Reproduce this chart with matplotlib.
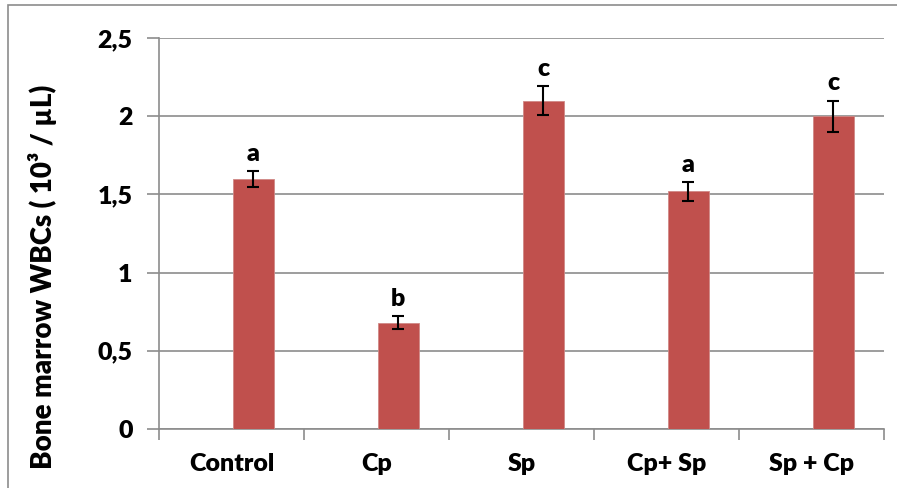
import matplotlib
matplotlib.use("Agg")
import matplotlib.pyplot as plt
from matplotlib.patches import Rectangle
import numpy as np

categories = ["Control", "Cp", "Sp", "Cp+ Sp", "Sp + Cp"]
values = [1.60, 0.68, 2.10, 1.52, 2.00]
errors = [0.05, 0.04, 0.09, 0.06, 0.10]
letters = ["a", "b", "c", "a", "c"]
yticks = [0, 0.5, 1, 1.5, 2, 2.5]
ytick_labels = ["0", "0,5", "1", "1,5", "2", "2,5"]

plt.rcParams['font.family'] = ['Lato', 'DejaVu Sans']
FW = 'heavy'
FS = 18

fig = plt.figure(figsize=(8.97, 4.88), dpi=100)
W, H = 897, 488
ax = fig.add_axes([159 / W, 1 - 429 / H, (884 - 159) / W, (429 - 38) / H])

# figure border
fig.patches.append(Rectangle((8 / W, -0.1), 1.2, 1 - 5 / H + 0.1, transform=fig.transFigure,
                             fill=False, edgecolor="#8c8c8c", linewidth=1.2))

x = np.arange(len(categories))
offset = 0.15
ax.bar(x + offset, values, width=0.285, color="#C0504D", edgecolor="#D08886", linewidth=0.6, zorder=3)
ax.errorbar(x + offset, values, yerr=errors, fmt="none", ecolor="black", elinewidth=1.5,
            capsize=4.5, capthick=1.5, zorder=4)
for xi, v, e, l in zip(x, values, errors, letters):
    ax.text(xi + offset, v + e + 0.04, l, ha="center", va="bottom", fontsize=FS, fontweight=FW)

ax.set_xlim(-0.5, len(categories) - 0.5)
ax.set_ylim(0, 2.5)
ax.set_yticks(yticks)
ax.set_yticklabels(ytick_labels, fontsize=FS, fontweight=FW)
ax.set_xticks(x)
ax.set_xticklabels(categories, fontsize=FS, fontweight=FW)
ax.set_xticks(np.arange(len(categories) + 1) - 0.5, minor=True)
ax.tick_params(axis="x", which="major", length=0, pad=17)
ax.tick_params(axis="x", which="minor", length=8, color="#8c8c8c", width=1.2)
ax.tick_params(axis="y", length=9, color="#8c8c8c", width=1.2, pad=10)
ax.grid(axis="y", color="#8c8c8c", linewidth=1.2, zorder=0)
for s in ["top", "right"]:
    ax.spines[s].set_visible(False)
for s in ["left", "bottom"]:
    ax.spines[s].set_color("#8c8c8c")
    ax.spines[s].set_linewidth(1.2)
ax.set_ylabel("Bone marrow WBCs ( 10³ / µL)", fontsize=20, fontweight=FW)
ax.yaxis.set_label_coords(-0.14, 0.39)

fig.savefig("out.png", dpi=100)
